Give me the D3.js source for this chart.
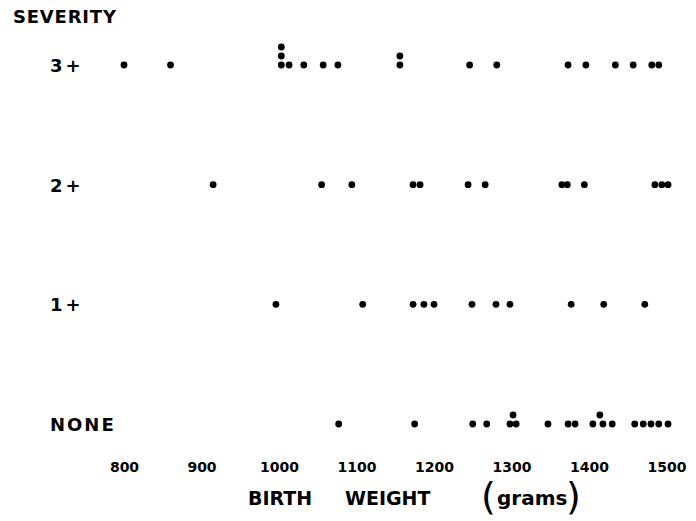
<!DOCTYPE html>
<html>
<head>
<meta charset="utf-8">
<script src="https://cdn.jsdelivr.net/npm/d3@7"></script>
<style>
  html, body { margin: 0; padding: 0; background: #fff; }
  svg { display: block; }
  text { font-family: "DejaVu Sans", Verdana, sans-serif; fill: #000; }
</style>
</head>
<body>
<svg id="chart" width="696" height="521"></svg>
<script>
// Severity groups, top to bottom
const severities = ["3+", "2+", "1+", "NONE"];

// Birth weights (grams) of each infant, per severity group
const weights3 = [800, 860, 1003, 1003, 1003, 1013, 1032, 1057, 1076, 1156, 1156,
                  1246, 1281, 1373, 1396, 1434, 1457, 1481, 1490];
const weights2 = [915, 1055, 1094, 1173, 1182, 1244, 1266, 1365, 1372, 1394,
                  1485, 1494, 1502];
const weights1 = [996, 1108, 1173, 1187, 1200, 1249, 1280, 1298, 1377, 1419, 1472];
const weightsNone = [1077, 1175, 1250, 1268, 1298, 1306, 1302, 1347, 1373, 1382,
                     1405, 1418, 1430, 1414, 1459, 1470, 1480, 1490, 1502];

const groupWeights = [weights3, weights2, weights1, weightsNone];

// Axis tick labels
const tickValues = [800, 900, 1000, 1100, 1200, 1300, 1400, 1500];

const svg = d3.select("#chart");

const x = d3.scaleLinear().domain([800, 1500]).range([124, 666.5]);
const y = d3.scalePoint().domain(severities).range([65, 424]);

const dotR = 3.4;
const stackStep = 9;
const stackGap = 5; // grams: dots closer than this pile up

// Greedy stacking: each dot takes the lowest free level in its row
const dots = [];
severities.forEach((sev, gi) => {
  const placed = [];
  groupWeights[gi].forEach(w => {
    let level = 0;
    while (placed.some(p => p.level === level && Math.abs(p.w - w) < stackGap)) level++;
    placed.push({ w, level });
    dots.push({ sev, w, level });
  });
});

svg.append("g")
  .selectAll("circle")
  .data(dots)
  .join("circle")
  .attr("cx", d => x(d.w))
  .attr("cy", d => y(d.sev) - d.level * stackStep)
  .attr("r", dotR)
  .attr("fill", "#000");

// Title of the vertical dimension
svg.append("text")
  .attr("x", 13).attr("y", 23)
  .attr("font-size", 18).attr("font-weight", "bold")
  .attr("letter-spacing", 0.8)
  .text("SEVERITY");

// Row labels
svg.append("g")
  .selectAll("text")
  .data(severities)
  .join("text")
  .attr("x", 50)
  .attr("y", d => y(d) + 7)
  .attr("font-size", 18).attr("font-weight", "bold")
  .attr("letter-spacing", d => d === "NONE" ? 2 : 3)
  .text(d => d);

// Horizontal axis (labels only, no line)
const axis = svg.append("g")
  .attr("transform", "translate(0,460)")
  .call(d3.axisBottom(x).tickValues(tickValues).tickSize(0).tickPadding(0).tickFormat(d3.format("d")));
axis.select(".domain").remove();
axis.selectAll("text")
  .attr("font-family", "\"DejaVu Sans\", sans-serif")
  .attr("font-size", 14).attr("font-weight", "bold")
  .attr("fill", "#000")
  .attr("dy", "0.85em");

// Axis title
svg.append("text")
  .attr("x", 248).attr("y", 505)
  .attr("font-size", 19).attr("font-weight", "bold")
  .text("BIRTH");
svg.append("text")
  .attr("x", 345).attr("y", 505)
  .attr("font-size", 19).attr("font-weight", "bold")
  .text("WEIGHT");
svg.append("text")
  .attr("x", 481).attr("y", 509)
  .attr("font-size", 38).attr("font-weight", "normal")
  .text("(");
svg.append("text")
  .attr("x", 497).attr("y", 505)
  .attr("font-size", 20).attr("font-weight", "bold")
  .text("grams");
svg.append("text")
  .attr("x", 566).attr("y", 509)
  .attr("font-size", 38).attr("font-weight", "normal")
  .text(")");
</script>
</body>
</html>
